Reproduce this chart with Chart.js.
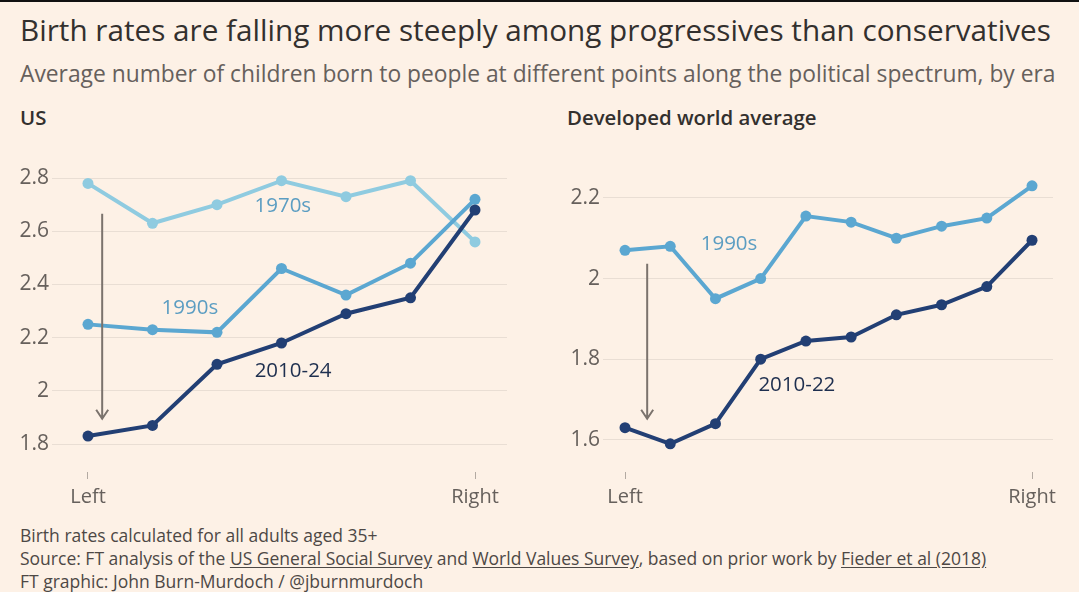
<!DOCTYPE html>
<html>
<head>
<meta charset="utf-8">
<script src="https://cdn.jsdelivr.net/npm/chart.js@4/dist/chart.umd.min.js"></script>
<style>
    html, body { margin: 0; padding: 0; }
    body { width: 1079px; height: 592px; background: #fdf1e6; position: relative; overflow: hidden; font-family: 'Open Sans', sans-serif; border-top: 2px solid #111; box-sizing: border-box; }
    .txt { position: absolute; left: 20px; white-space: nowrap; }
    #title { top: 9px; font-size: 29.7px; line-height: 38px; color: #33302e; }
    #subtitle { top: 58px; font-size: 22.8px; line-height: 28px; color: #66605c; }
    .head { top: 102px; font-size: 20.4px; line-height: 26px; font-weight: 600; color: #33302e; }
    #footer { top: 522px; font-size: 17.5px; line-height: 23px; color: #4d4845; }
    #footer u { text-underline-offset: 2px; }
    canvas { position: absolute; }
</style>
</head>
<body>
<div class="txt" id="title">Birth rates are falling more steeply among progressives than conservatives</div>
<div class="txt" id="subtitle">Average number of children born to people at different points along the political spectrum, by era</div>
<div class="txt head">US</div>
<div class="txt head" style="left:567px">Developed world average</div>
<canvas id="usChart" width="533" height="365" style="left:0;top:150px"></canvas>
<canvas id="worldChart" width="529" height="365" style="left:550px;top:150px"></canvas>
<div class="txt" id="footer">
    Birth rates calculated for all adults aged 35+<br>
    Source: FT analysis of the <u>US General Social Survey</u> and <u>World Values Survey</u>, based on prior work by <u>Fieder et al (2018)</u><br>
    FT graphic: John Burn-Murdoch / @jburnmurdoch
</div>
<script>
const axisEnds = ['Left', 'Right'];

const us1970s = [2.78, 2.63, 2.70, 2.79, 2.73, 2.79, 2.56];
const us1990s = [2.25, 2.23, 2.22, 2.46, 2.36, 2.48, 2.72];
const us2010s = [1.83, 1.87, 2.10, 2.18, 2.29, 2.35, 2.68];
const usTicks = [1.8, 2, 2.2, 2.4, 2.6, 2.8];

const world1990s = [2.07, 2.08, 1.95, 2.00, 2.155, 2.14, 2.10, 2.13, 2.15, 2.23];
const world2010s = [1.63, 1.59, 1.64, 1.80, 1.845, 1.855, 1.91, 1.935, 1.98, 2.095];
const worldTicks = [1.6, 1.8, 2, 2.2];

const usLabels = [
    { text: '1970s', x: 3.02, y: 2.695, color: '#5b9dc2' },
    { text: '1990s', x: 1.58, y: 2.311, color: '#5b9dc2' },
    { text: '2010-24', x: 3.18, y: 2.074, color: '#1e2f4f' }
];
const worldLabels = [
    { text: '1990s', x: 2.30, y: 2.086, color: '#5b9dc2' },
    { text: '2010-22', x: 3.80, y: 1.736, color: '#1e2f4f' }
];

const COLORS = { c1970: '#8fcbe0', c1990: '#5ba7d1', c2010: '#223f74' };
const FONT = 'Open Sans';

function toPoints(values) {
    return values.map((v, i) => ({ x: i, y: v }));
}

function series(values, color) {
    return {
        data: toPoints(values), borderColor: color, backgroundColor: color,
        borderWidth: 4, pointRadius: 5.5, pointHoverRadius: 5.5, pointBorderWidth: 0, tension: 0
    };
}

// text labels + the grey "drop" arrow, placed in data units
const annotate = {
    id: 'annotate',
    afterDatasetsDraw(chart, args, opts) {
        const { ctx, scales: { x, y } } = chart;
        ctx.save();
        ctx.strokeStyle = '#7b736d';
        ctx.lineWidth = 2;
        const ax = x.getPixelForValue(opts.arrow.x);
        const y0 = y.getPixelForValue(opts.arrow.from);
        const y1 = y.getPixelForValue(opts.arrow.to);
        ctx.beginPath();
        ctx.moveTo(ax, y0);
        ctx.lineTo(ax, y1);
        ctx.moveTo(ax - 6, y1 - 9);
        ctx.lineTo(ax, y1);
        ctx.lineTo(ax + 6, y1 - 9);
        ctx.stroke();
        ctx.font = `20.5px '${FONT}'`;
        ctx.textAlign = 'center';
        ctx.textBaseline = 'middle';
        opts.labels.forEach(l => {
            ctx.fillStyle = l.color;
            ctx.fillText(l.text, x.getPixelForValue(l.x), y.getPixelForValue(l.y));
        });
        ctx.restore();
    }
};

function buildChart(id, datasets, n, ticks, yMin, yMax, xMin, xMax, yWidth, labels, arrow) {
    return new Chart(document.getElementById(id), {
        type: 'line',
        data: { datasets },
        plugins: [annotate],
        options: {
            responsive: false, animation: false,
            layout: { padding: { top: 0, left: 0, bottom: 0, right: 26 }, autoPadding: false },
            plugins: { legend: { display: false }, tooltip: { enabled: false }, annotate: { labels, arrow } },
            scales: {
                x: {
                    type: 'linear', min: xMin, max: xMax,
                    border: { display: false },
                    grid: { drawOnChartArea: false, drawTicks: true, tickLength: 7, color: '#b3aaa2' },
                    afterBuildTicks: s => { s.ticks = [{ value: 0 }, { value: n - 1 }]; },
                    afterFit: s => { s.height = 45; s.paddingLeft = 0; s.paddingRight = 0; },
                    ticks: { callback: (v, i) => axisEnds[i], padding: 6, color: '#66605c', font: { family: FONT, size: 20 } }
                },
                y: {
                    min: yMin, max: yMax,
                    border: { display: false },
                    grid: { color: '#e9ded4', drawTicks: false },
                    afterBuildTicks: s => { s.ticks = ticks.map(v => ({ value: v })); },
                    afterFit: s => { s.width = yWidth; s.paddingTop = 0; s.paddingBottom = 0; },
                    ticks: { callback: v => String(v), padding: 3, color: '#66605c', font: { family: FONT, size: 21 } }
                }
            }
        }
    });
}

buildChart('usChart',
    [series(us2010s, COLORS.c2010), series(us1990s, COLORS.c1990), series(us1970s, COLORS.c1970)],
    us1970s.length, usTicks, 1.695, 2.898, -0.558, 6.496, 52, usLabels,
    { x: 0.22, from: 2.666, to: 1.895 });

buildChart('worldChart',
    [series(world2010s, COLORS.c2010), series(world1990s, COLORS.c1990)],
    world1990s.length, worldTicks, 1.52, 2.314, -0.487, 9.464, 53, worldLabels,
    { x: 0.49, from: 2.037, to: 1.652 });
</script>
</body>
</html>
